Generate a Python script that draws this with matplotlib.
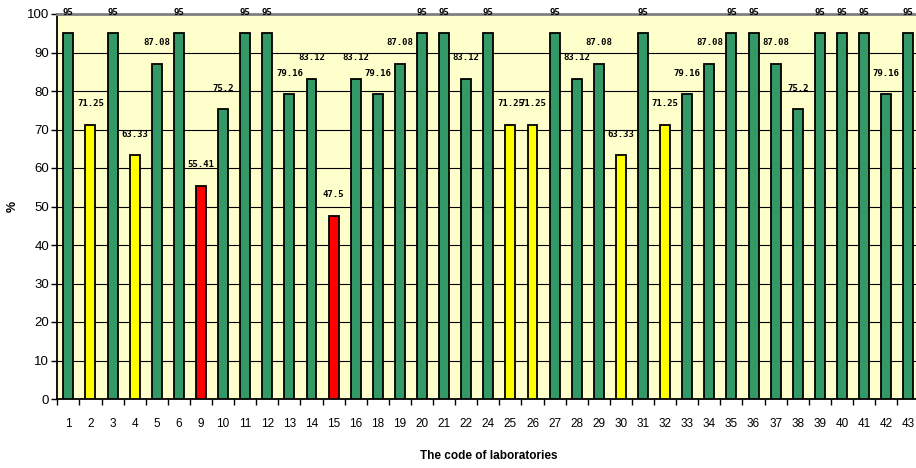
import matplotlib
matplotlib.use("Agg")
import matplotlib.pyplot as plt
from matplotlib import font_manager

labs = ["1", "2", "3", "4", "5", "6", "9", "10", "11", "12", "13", "14", "15", "16",
        "18", "19", "20", "21", "22", "24", "25", "26", "27", "28", "29", "30", "31",
        "32", "33", "34", "35", "36", "37", "38", "39", "40", "41", "42", "43"]
scores = [95, 71.25, 95, 63.33, 87.08, 95, 55.41, 75.2, 95, 95, 79.16, 83.12, 47.5, 83.12,
          79.16, 87.08, 95, 95, 83.12, 95, 71.25, 71.25, 95, 83.12, 87.08, 63.33, 95,
          71.25, 79.16, 87.08, 95, 95, 87.08, 75.2, 95, 95, 95, 79.16, 95]
yticks = list(range(0, 101, 10))


def bar_colour(v):
    if v >= 75:
        return "#339966"
    if v >= 60:
        return "#FFFF00"
    return "#FF0000"


names = {f.name for f in font_manager.fontManager.ttflist}
narrow = "Liberation Sans Narrow" if "Liberation Sans Narrow" in names else "Liberation Sans"

fig = plt.figure(figsize=(9.16, 4.68), dpi=100)
ax = fig.add_axes([57.3 / 916, 69 / 468, 862 / 916, 385 / 468])
ax.set_facecolor("#FFFFCC")

x = list(range(len(labs)))
ax.bar(x, scores, width=0.45, color=[bar_colour(v) for v in scores],
       edgecolor="black", linewidth=1.3, zorder=3)

for xi, v in zip(x, scores):
    ax.text(xi, v + 5.5, f"{v:g}", ha="center", va="center", fontsize=6.5,
            family="DejaVu Sans Mono", fontweight="bold", clip_on=False, zorder=4)

ax.set_xlim(-0.5, len(labs) - 0.5)
ax.set_ylim(0, 100)
ax.set_yticks(yticks)
ax.set_yticklabels([str(t) for t in yticks], family=narrow, fontsize=9.5)
ax.yaxis.grid(True, color="black", linewidth=0.8, zorder=1)
ax.set_axisbelow(True)

ax.set_xticks(x)
ax.set_xticklabels(labs, family=narrow, fontsize=8.5)
ax.set_xticks([i - 0.5 for i in range(len(labs) + 1)], minor=True)
ax.tick_params(axis="x", which="major", length=0, pad=14)
ax.tick_params(axis="x", which="minor", length=4, width=1, color="black", direction="out")
ax.tick_params(axis="y", length=4, width=1, direction="out", pad=2)

for side in ("left", "bottom"):
    ax.spines[side].set_color("black")
    ax.spines[side].set_linewidth(1.3)
ax.spines["top"].set_color("#808080")
ax.spines["top"].set_linewidth(2)
ax.spines["right"].set_visible(False)

ax.set_xlabel("The code of laboratories", family=narrow, fontweight="bold",
              fontsize=8.5, labelpad=14)
ax.set_ylabel("%", family=narrow, fontweight="bold", fontsize=9)
ax.yaxis.set_label_coords(-0.045, 0.5)

fig.savefig("out.png", dpi=100, facecolor="white")
